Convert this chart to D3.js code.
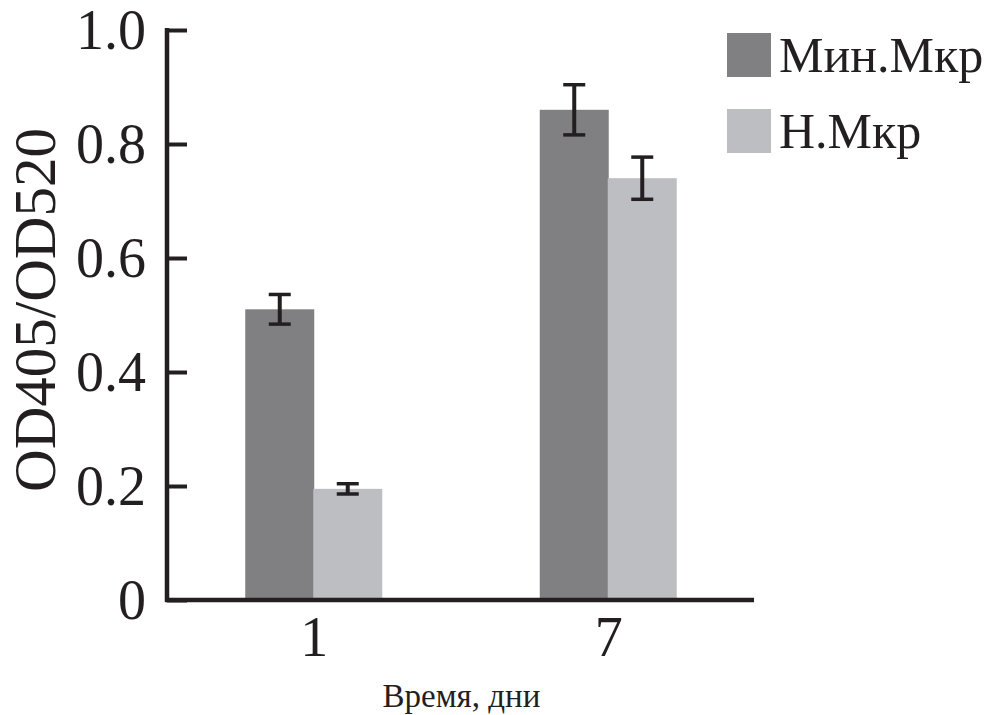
<!DOCTYPE html>
<html>
<head>
<meta charset="utf-8">
<script src="https://cdn.jsdelivr.net/npm/d3@7"></script>
<style>
  html, body { margin: 0; padding: 0; background: #fff; }
  svg { display: block; }
  text { font-family: "Liberation Serif", "Times New Roman", serif; fill: #231f20; }
</style>
</head>
<body>
<svg id="chart" width="997" height="715"></svg>
<script>
const categories = ["1", "7"];
const seriesNames = ["Мин.Мкр", "Н.Мкр"];
const minMkr = [0.51, 0.86];
const minMkrErr = [0.026, 0.044];
const nMkr = [0.195, 0.74];
const nMkrErr = [0.009, 0.037];
const yTicks = [0, 0.2, 0.4, 0.6, 0.8, 1.0];
const yTickLabels = ["0", "0.2", "0.4", "0.6", "0.8", "1.0"];
const yTitle = "OD405/OD520";
const xTitle = "Время, дни";

const colors = ["#808083", "#bdbec2"];
const ink = "#231f20";

const svg = d3.select("#chart");
const x0 = 167, x1 = 756, yTop = 30, yBot = 600;

const x = d3.scalePoint().domain(categories).range([x0, x1]).padding(0.5);
const sub = d3.scaleBand().domain(seriesNames).range([-69, 69]).padding(0);
const y = d3.scaleLinear().domain([0, 1]).range([yBot, yTop]);

const data = [];
categories.forEach((c, i) => {
  data.push({cat: c, s: seriesNames[0], v: minMkr[i], e: minMkrErr[i], col: colors[0]});
  data.push({cat: c, s: seriesNames[1], v: nMkr[i], e: nMkrErr[i], col: colors[1]});
});
const shift = d => (d.s === seriesNames[1] ? -1 : 0);

// bars
svg.append("g").selectAll("rect").data(data).join("rect")
  .attr("x", d => x(d.cat) + sub(d.s) + shift(d))
  .attr("width", sub.bandwidth())
  .attr("y", d => y(d.v))
  .attr("height", d => y(0) - y(d.v))
  .attr("fill", d => d.col);

// error bars
const eg = svg.append("g").attr("stroke", ink);
data.forEach(d => {
  const cx = x(d.cat) + sub(d.s) + sub.bandwidth() / 2 + shift(d);
  eg.append("line").attr("x1", cx).attr("x2", cx)
    .attr("y1", y(d.v + d.e)).attr("y2", y(d.v - d.e)).attr("stroke-width", 4);
  [d.v + d.e, d.v - d.e].forEach(v => {
    eg.append("line").attr("x1", cx - 11).attr("x2", cx + 11)
      .attr("y1", y(v)).attr("y2", y(v)).attr("stroke-width", 3.5);
  });
});

// y axis
const yAxis = d3.axisRight(y).tickValues(yTicks).tickSize(20).tickFormat("");
const ya = svg.append("g").attr("transform", `translate(${x0},0)`).call(yAxis);
ya.select(".domain").remove();
ya.selectAll(".tick line").attr("stroke", ink).attr("stroke-width", 4);
svg.append("line").attr("x1", x0).attr("x2", x0).attr("y1", yTop - 2).attr("y2", yBot + 2)
  .attr("stroke", ink).attr("stroke-width", 4.5);

svg.append("g").selectAll("text").data(yTicks).join("text")
  .attr("x", 146).attr("y", d => y(d)).attr("dy", "0.34em")
  .attr("text-anchor", "end").attr("font-size", 56)
  .text((d, i) => yTickLabels[i]);

// x axis
svg.append("line").attr("x1", x0 - 2).attr("x2", 754).attr("y1", yBot).attr("y2", yBot)
  .attr("stroke", ink).attr("stroke-width", 4.5);
svg.append("g").selectAll("text").data(categories).join("text")
  .attr("x", d => x(d)).attr("y", 656)
  .attr("text-anchor", "middle").attr("font-size", 56)
  .text(d => d);

// titles
svg.append("text").attr("transform", `translate(55,${(yTop + yBot) / 2 - 5}) rotate(-90)`)
  .attr("text-anchor", "middle").attr("font-size", 59).text(yTitle);
svg.append("text").attr("x", (x0 + x1) / 2).attr("y", 707)
  .attr("text-anchor", "middle").attr("font-size", 33).text(xTitle);

// legend
const lg = svg.append("g");
seriesNames.forEach((s, i) => {
  const ly = 33 + i * 76;
  lg.append("rect").attr("x", 727).attr("y", ly).attr("width", 44).attr("height", 44)
    .attr("fill", colors[i]);
  lg.append("text").attr("x", 779).attr("y", ly + 39).attr("font-size", 50).text(s);
});
</script>
</body>
</html>
